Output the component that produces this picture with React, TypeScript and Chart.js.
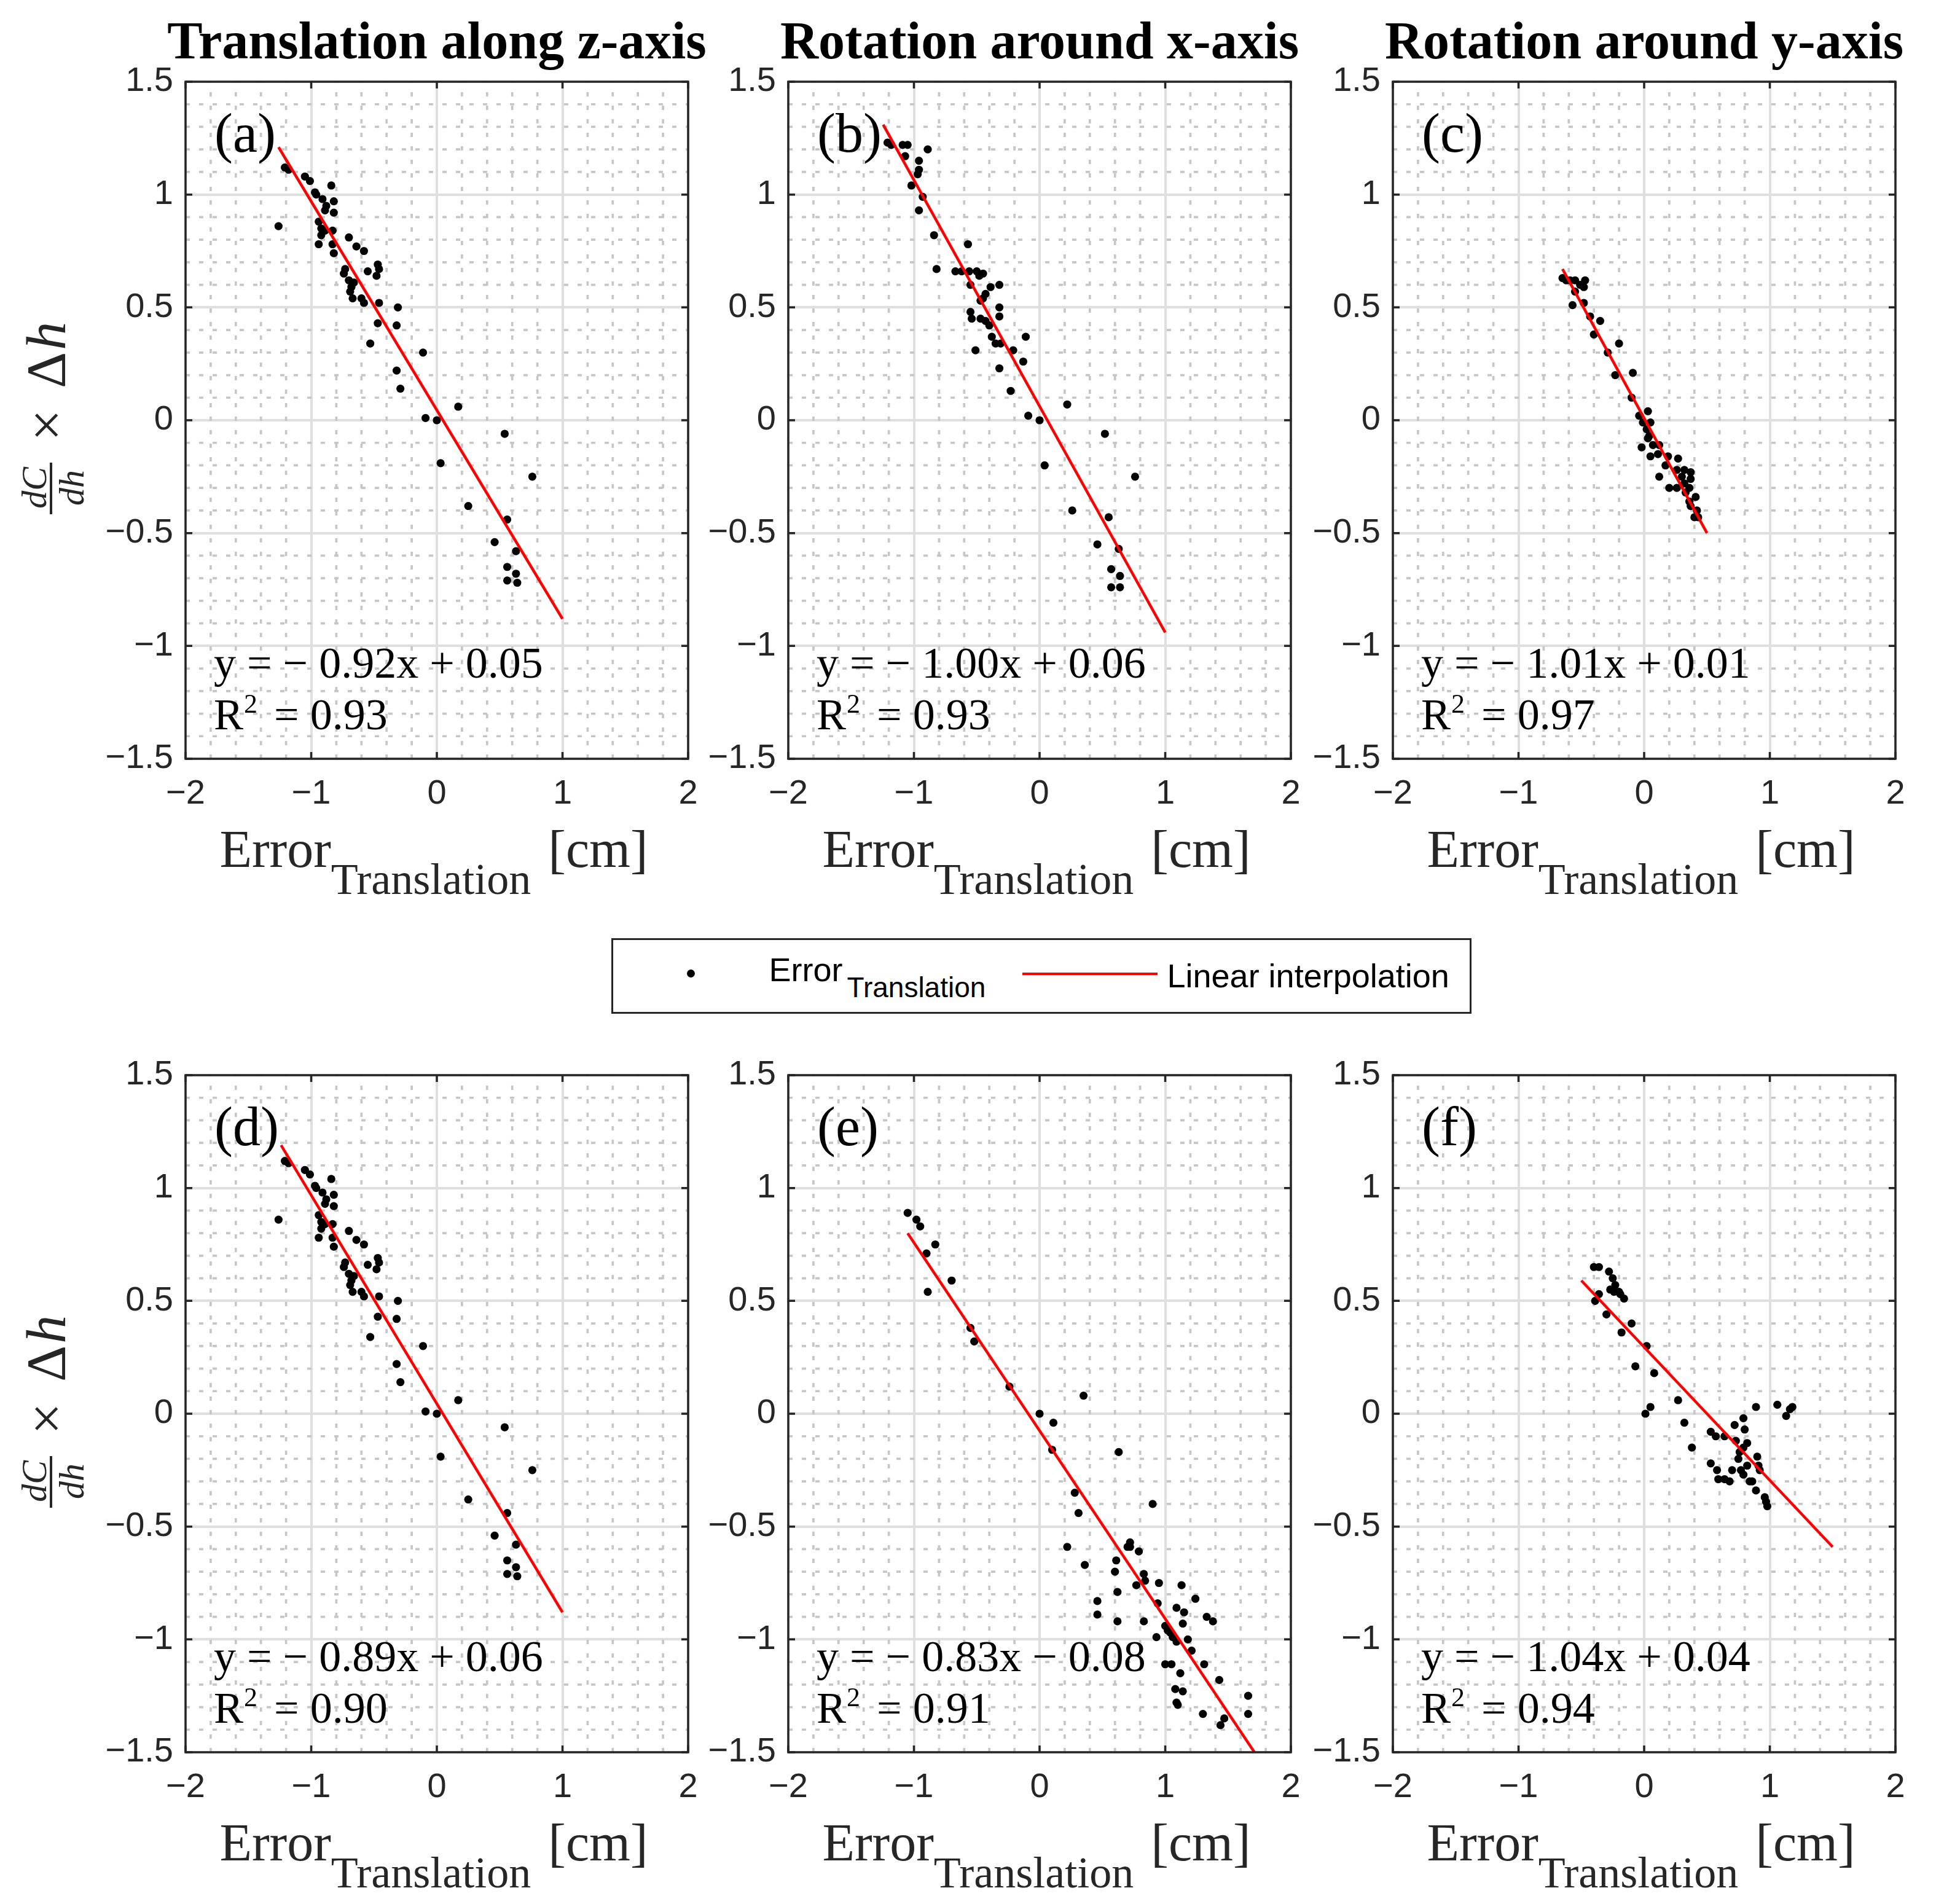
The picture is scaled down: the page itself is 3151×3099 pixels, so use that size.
import { useEffect, useRef } from "react"
import { Chart, registerables } from "chart.js"

Chart.register(...registerables)

// ---- data ----
const titles = ["Translation along z-axis", "Rotation around x-axis", "Rotation around y-axis"]
const panelLetters = ["(a)", "(b)", "(c)", "(d)", "(e)", "(f)"]
const equations = [
  "y = \u2212 0.92x + 0.05",
  "y = \u2212 1.00x + 0.06",
  "y = \u2212 1.01x + 0.01",
  "y = \u2212 0.89x + 0.06",
  "y = \u2212 0.83x \u2212 0.08",
  "y = \u2212 1.04x + 0.04",
]
const r2Values = ["0.93", "0.93", "0.97", "0.90", "0.91", "0.94"]

const xTicks = [-2, -1, 0, 1, 2]
const yTicks = [-1.5, -1, -0.5, 0, 0.5, 1, 1.5]

const panelA: [number, number][] = [
  [-1.18, 1.11], [-1.21, 1.12], [-1.05, 1.08], [-1.01, 1.06], [-0.84, 1.04], [-0.97, 1.01],
  [-0.96, 1.0], [-0.91, 0.98], [-0.82, 0.97], [-0.88, 0.95], [-0.89, 0.93], [-0.82, 0.92],
  [-1.26, 0.86], [-0.94, 0.88], [-0.92, 0.85], [-0.89, 0.84], [-0.83, 0.84], [-0.92, 0.82],
  [-0.94, 0.78], [-0.83, 0.78], [-0.82, 0.74], [-0.7, 0.81], [-0.64, 0.77], [-0.58, 0.75],
  [-0.47, 0.69], [-0.46, 0.67], [-0.48, 0.64], [-0.55, 0.66], [-0.73, 0.67], [-0.74, 0.65],
  [-0.7, 0.62], [-0.66, 0.61], [-0.68, 0.59], [-0.69, 0.57], [-0.67, 0.54], [-0.6, 0.54],
  [-0.58, 0.52], [-0.46, 0.52], [-0.31, 0.5], [-0.47, 0.43], [-0.32, 0.42], [-0.53, 0.34],
  [-0.11, 0.3], [-0.32, 0.22], [-0.29, 0.14], [0.17, 0.06], [-0.09, 0.01], [0.0, 0.0],
  [0.03, -0.19], [0.54, -0.06], [0.76, -0.25], [0.25, -0.38], [0.56, -0.44], [0.46, -0.54],
  [0.63, -0.58], [0.56, -0.65], [0.63, -0.68], [0.56, -0.71], [0.64, -0.72],
]

const panelB: [number, number][] = [
  [-1.21, 1.23], [-1.18, 1.22], [-1.09, 1.22], [-1.05, 1.22], [-1.07, 1.17], [-0.89, 1.2],
  [-0.96, 1.15], [-0.96, 1.11], [-0.97, 1.09], [-1.02, 1.04], [-0.93, 0.99], [-0.96, 0.93],
  [-0.84, 0.82], [-0.57, 0.78], [-0.82, 0.67], [-0.67, 0.66], [-0.62, 0.66], [-0.56, 0.66],
  [-0.5, 0.66], [-0.45, 0.65], [-0.48, 0.64], [-0.55, 0.6], [-0.39, 0.59], [-0.32, 0.6],
  [-0.43, 0.56], [-0.45, 0.54], [-0.47, 0.53], [-0.32, 0.5], [-0.55, 0.48], [-0.32, 0.46],
  [-0.54, 0.45], [-0.47, 0.45], [-0.43, 0.44], [-0.4, 0.42], [-0.38, 0.37], [-0.35, 0.34],
  [-0.31, 0.34], [-0.11, 0.37], [-0.21, 0.31], [-0.51, 0.31], [-0.13, 0.26], [-0.32, 0.23],
  [-0.23, 0.13], [0.22, 0.07], [-0.09, 0.02], [0.0, 0.0], [0.04, -0.2], [0.52, -0.06],
  [0.76, -0.25], [0.26, -0.4], [0.55, -0.43], [0.46, -0.55], [0.63, -0.57], [0.57, -0.66],
  [0.64, -0.69], [0.57, -0.74], [0.64, -0.74],
]

const panelC: [number, number][] = [
  [-0.65, 0.63], [-0.62, 0.62], [-0.59, 0.62], [-0.55, 0.62], [-0.51, 0.6], [-0.47, 0.62],
  [-0.48, 0.59], [-0.55, 0.57], [-0.57, 0.51], [-0.48, 0.52], [-0.43, 0.46], [-0.35, 0.44],
  [-0.4, 0.38], [-0.2, 0.34], [-0.29, 0.3], [-0.23, 0.2], [-0.09, 0.21], [-0.1, 0.1],
  [-0.04, 0.02], [0.03, 0.04], [-0.01, -0.01], [0.05, -0.01], [0.02, -0.04], [0.04, -0.07],
  [0.03, -0.08], [-0.02, -0.12], [0.07, -0.11], [0.12, -0.11], [0.05, -0.16], [0.11, -0.15],
  [0.19, -0.16], [0.27, -0.17], [0.17, -0.2], [0.26, -0.22], [0.32, -0.22], [0.37, -0.23],
  [0.3, -0.25], [0.37, -0.26], [0.12, -0.25], [0.32, -0.28], [0.2, -0.3], [0.26, -0.3],
  [0.36, -0.3], [0.33, -0.32], [0.41, -0.34], [0.36, -0.36], [0.37, -0.38], [0.42, -0.4],
  [0.4, -0.43], [0.43, -0.43],
]

// panel (d) shows the same scatter as panel (a)
const panelD: [number, number][] = panelA

const panelE: [number, number][] = [
  [-1.05, 0.89], [-0.98, 0.86], [-0.95, 0.83], [-0.83, 0.75], [-0.9, 0.71], [-0.7, 0.59],
  [-0.89, 0.54], [-0.55, 0.38], [-0.52, 0.32], [-0.24, 0.12], [0.35, 0.08], [0.0, 0.0],
  [0.11, -0.04], [0.1, -0.16], [0.63, -0.17], [0.9, -0.4], [0.28, -0.35], [0.31, -0.44],
  [0.22, -0.59], [0.72, -0.57], [0.7, -0.59], [0.72, -0.59], [0.79, -0.61], [0.36, -0.67],
  [0.61, -0.65], [0.6, -0.7], [0.83, -0.71], [0.84, -0.74], [0.77, -0.76], [0.95, -0.75],
  [1.13, -0.76], [0.62, -0.79], [0.46, -0.83], [1.24, -0.82], [0.94, -0.84], [1.09, -0.86],
  [1.15, -0.88], [0.46, -0.89], [1.33, -0.9], [1.38, -0.92], [0.83, -0.92], [0.62, -0.92],
  [1.14, -0.93], [1.0, -0.94], [1.02, -0.96], [1.04, -0.97], [1.06, -0.99], [0.93, -0.99],
  [1.09, -1.01], [1.18, -1.0], [1.21, -1.05], [1.0, -1.11], [1.05, -1.11], [1.31, -1.11],
  [1.12, -1.15], [1.43, -1.18], [1.08, -1.22], [1.14, -1.23], [1.66, -1.25], [1.09, -1.28],
  [1.1, -1.29], [1.3, -1.33], [1.66, -1.33], [1.47, -1.35], [1.44, -1.38],
]

const panelF: [number, number][] = [
  [-0.4, 0.65], [-0.36, 0.65], [-0.28, 0.63], [-0.25, 0.6], [-0.23, 0.57], [-0.27, 0.55],
  [-0.24, 0.54], [-0.2, 0.54], [-0.19, 0.53], [-0.16, 0.51], [-0.36, 0.53], [-0.39, 0.5],
  [-0.3, 0.44], [-0.1, 0.4], [-0.18, 0.36], [0.02, 0.3], [-0.07, 0.21], [0.08, 0.18],
  [0.27, 0.06], [0.05, 0.03], [0.01, 0.0], [0.32, -0.04], [0.38, -0.15], [0.89, 0.03],
  [1.06, 0.04], [1.18, 0.03], [1.16, 0.02], [1.13, -0.01], [0.79, -0.02], [0.72, -0.05],
  [0.8, -0.07], [0.53, -0.08], [0.57, -0.1], [0.64, -0.1], [0.73, -0.12], [0.82, -0.13],
  [0.79, -0.15], [0.76, -0.17], [0.9, -0.19], [0.75, -0.2], [0.53, -0.22], [0.91, -0.23],
  [0.82, -0.23], [0.92, -0.25], [0.77, -0.25], [0.7, -0.25], [0.58, -0.25], [0.79, -0.27],
  [0.59, -0.29], [0.64, -0.29], [0.68, -0.3], [0.84, -0.3], [0.86, -0.3], [0.89, -0.34],
  [0.96, -0.37], [0.97, -0.39], [0.98, -0.41],
]

// end points of the red fitted lines
const fitA: [number, number][] = [[-1.26, 1.21], [1.0, -0.88]]
const fitB: [number, number][] = [[-1.245, 1.31], [1.0, -0.94]]
const fitC: [number, number][] = [[-0.65, 0.67], [0.5, -0.5]]
const fitD: [number, number][] = [[-1.24, 1.19], [1.0, -0.88]]
const fitE: [number, number][] = [[-1.05, 0.8], [1.71, -1.5]]
const fitF: [number, number][] = [[-0.5, 0.59], [1.5, -0.59]]

const panelPoints = [panelA, panelB, panelC, panelD, panelE, panelF]
const panelFits = [fitA, fitB, fitC, fitD, fitE, fitF]

// ---- layout ----
const PLOT_LEFTS = [302, 1283, 2267]
const PLOT_TOPS = [133, 1750]
const PLOT_W = 818
const PLOT_H = 1102
const PAD_LEFT = 300
const PAD_TOP = 140
const PAD_RIGHT = 40
const PAD_BOTTOM = 260
const CANVAS_W = PAD_LEFT + PLOT_W + PAD_RIGHT
const CANVAS_H = PAD_TOP + PLOT_H + PAD_BOTTOM

const AXIS_COLOR = "#262626"
const SERIF = "'Liberation Serif', 'Times New Roman', serif"
const SANS = "'Liberation Sans', Arial, Helvetica, sans-serif"

const fmtTick = (v: number) => {
  const r = Math.round(v * 10) / 10
  return r < 0 ? "\u2212" + Math.abs(r) : String(r)
}

const decorPlugin = {
  id: "panelDecor",
  beforeDatasetsDraw(chart: any) {
    const { ctx, chartArea: a, scales } = chart
    const x = scales.x
    const y = scales.y
    // dotted minor grid
    ctx.save()
    ctx.beginPath()
    ctx.rect(a.left, a.top, a.right - a.left, a.bottom - a.top)
    ctx.clip()
    ctx.strokeStyle = "#c6c6c6"
    ctx.lineWidth = 3.7
    ctx.setLineDash([7, 15])
    ctx.beginPath()
    for (let i = -20; i <= 20; i += 2) {
      if (i % 10 === 0) continue
      const px = x.getPixelForValue(i / 10)
      ctx.moveTo(px, a.bottom)
      ctx.lineTo(px, a.top)
    }
    for (let i = -15; i <= 15; i++) {
      if (i % 5 === 0) continue
      const py = y.getPixelForValue(i / 10)
      ctx.moveTo(a.left, py)
      ctx.lineTo(a.right, py)
    }
    ctx.stroke()
    ctx.restore()
  },
  afterDatasetsDraw(chart: any, _args: any, opts: any) {
    const { ctx, chartArea: a, scales } = chart
    const x = scales.x
    const y = scales.y
    ctx.save()

    // inward tick marks on all four sides
    ctx.strokeStyle = AXIS_COLOR
    ctx.lineWidth = 3.5
    ctx.beginPath()
    const tl = 11
    for (const v of xTicks) {
      const px = x.getPixelForValue(v)
      ctx.moveTo(px, a.bottom)
      ctx.lineTo(px, a.bottom - tl)
      ctx.moveTo(px, a.top)
      ctx.lineTo(px, a.top + tl)
    }
    for (const v of yTicks) {
      const py = y.getPixelForValue(v)
      ctx.moveTo(a.left, py)
      ctx.lineTo(a.left + tl, py)
      ctx.moveTo(a.right, py)
      ctx.lineTo(a.right - tl, py)
    }
    ctx.stroke()
    // axes box
    ctx.strokeRect(a.left, a.top, a.right - a.left, a.bottom - a.top)

    ctx.fillStyle = "#000000"
    ctx.textAlign = "left"
    ctx.textBaseline = "alphabetic"

    // panel letter
    ctx.font = `90px ${SERIF}`
    ctx.fillText(opts.letter, x.getPixelForValue(-1.77), y.getPixelForValue(1.19))

    // regression equation and R^2
    const ex = x.getPixelForValue(-1.775)
    ctx.font = `72px ${SERIF}`
    ctx.fillText(opts.equation, ex, y.getPixelForValue(-1.14))
    const rb = y.getPixelForValue(-1.37)
    ctx.fillText("R", ex, rb)
    const wR = ctx.measureText("R").width
    ctx.font = `44px ${SERIF}`
    ctx.fillText("2", ex + wR + 1, rb - 27)
    const w2 = ctx.measureText("2").width
    ctx.font = `72px ${SERIF}`
    ctx.fillText("= " + opts.r2, ex + wR + w2 + 28, rb)

    // title (top row only)
    if (opts.title) {
      ctx.font = `bold 86px ${SERIF}`
      ctx.textAlign = "center"
      ctx.fillText(opts.title, (a.left + a.right) / 2, a.top - 38)
      ctx.textAlign = "left"
    }

    // x axis label: Error_Translation [cm]
    ctx.fillStyle = AXIS_COLOR
    ctx.font = `86px ${SERIF}`
    const wE = ctx.measureText("Error").width
    const wC = ctx.measureText("[cm]").width
    ctx.font = `72px ${SERIF}`
    const wS = ctx.measureText("Translation").width
    const gap = 28
    const total = wE + wS + gap + wC
    const sx = (a.left + a.right) / 2 - total / 2 - 5
    ctx.font = `86px ${SERIF}`
    ctx.fillText("Error", sx, a.bottom + 176)
    ctx.fillText("[cm]", sx + wE + wS + gap, a.bottom + 176)
    ctx.font = `72px ${SERIF}`
    ctx.fillText("Translation", sx + wE, a.bottom + 220)

    // y axis label: dC/dh x Delta h (left column only)
    if (opts.yLabel) {
      const cy = (a.top + a.bottom) / 2 - 8
      const base = a.left - 196
      ctx.translate(base, cy)
      ctx.rotate(-Math.PI / 2)
      ctx.font = `italic 58px ${SERIF}`
      ctx.textAlign = "center"
      ctx.fillText("dC", -118, -31)
      ctx.fillRect(-161, -25, 84, 4)
      ctx.fillText("dh", -118, 30)
      ctx.textAlign = "left"
      ctx.font = `92px ${SERIF}`
      ctx.fillText("\u00d7", -42, 0)
      ctx.fillText("\u0394", 44, 0)
      const wD = ctx.measureText("\u0394").width
      ctx.font = `italic 92px ${SERIF}`
      ctx.fillText("h", 44 + wD + 3, 0)
    }
    ctx.restore()
  },
}

interface PanelProps {
  index: number
}

function Panel({ index }: PanelProps) {
  const canvasRef = useRef<HTMLCanvasElement>(null)
  const col = index % 3
  const row = Math.floor(index / 3)
  const left = PLOT_LEFTS[col] - PAD_LEFT
  const top = PLOT_TOPS[row] - PAD_TOP

  useEffect(() => {
    if (!canvasRef.current) return
    const points = panelPoints[index]
    const fit = panelFits[index]
    const chart = new Chart(canvasRef.current, {
      type: "scatter",
      data: {
        datasets: [
          {
            label: "Linear interpolation",
            data: fit.map(([px, py]) => ({ x: px, y: py })),
            showLine: true,
            borderColor: "#ff0000",
            borderWidth: 4.5,
            pointRadius: 0,
            order: 0,
          },
          {
            label: "Error Translation",
            data: points.map(([px, py]) => ({ x: px, y: py })),
            backgroundColor: "#000000",
            borderWidth: 0,
            pointRadius: 6.6,
            order: 1,
          },
        ],
      },
      options: {
        responsive: false,
        animation: false,
        events: [],
        layout: {
          padding: { top: PAD_TOP, right: PAD_RIGHT, bottom: 0, left: 0 },
        },
        scales: {
          x: {
            type: "linear",
            min: -2,
            max: 2,
            afterFit: (scale: any) => {
              scale.height = PAD_BOTTOM
            },
            afterBuildTicks: (scale: any) => {
              scale.ticks = xTicks.map((v) => ({ value: v }))
            },
            ticks: {
              autoSkip: false,
              maxRotation: 0,
              padding: 24,
              color: AXIS_COLOR,
              font: { family: SANS, size: 56 },
              callback: (v: any) => fmtTick(Number(v)),
            },
            grid: { color: "#dfdfdf", lineWidth: 4, drawTicks: false },
            border: { display: false },
          },
          y: {
            type: "linear",
            min: -1.5,
            max: 1.5,
            afterFit: (scale: any) => {
              scale.width = PAD_LEFT
            },
            afterBuildTicks: (scale: any) => {
              scale.ticks = yTicks.map((v) => ({ value: v }))
            },
            ticks: {
              autoSkip: false,
              padding: 20,
              color: AXIS_COLOR,
              font: { family: SANS, size: 56 },
              callback: (v: any) => fmtTick(Number(v)),
            },
            grid: { color: "#dfdfdf", lineWidth: 4, drawTicks: false },
            border: { display: false },
          },
        },
        plugins: {
          legend: { display: false },
          tooltip: { enabled: false },
          title: { display: false },
          panelDecor: {
            letter: panelLetters[index],
            equation: equations[index],
            r2: r2Values[index],
            title: row === 0 ? titles[col] : "",
            yLabel: col === 0,
          },
        } as any,
      },
      plugins: [decorPlugin],
    })
    return () => chart.destroy()
  }, [index])

  return (
    <canvas
      ref={canvasRef}
      width={CANVAS_W}
      height={CANVAS_H}
      style={{ position: "absolute", left, top, width: CANVAS_W, height: CANVAS_H }}
    />
  )
}

function Legend() {
  const text = {
    position: "absolute" as const,
    fontFamily: SANS,
    color: "#000",
    lineHeight: 1,
    whiteSpace: "nowrap" as const,
  }
  const bw = 3.5
  const ox = 995 + bw
  const oy = 1527 + bw
  return (
    <div
      style={{
        position: "absolute",
        left: 995,
        top: 1527,
        width: 1400,
        height: 123,
        boxSizing: "border-box",
        border: `${bw}px solid ${AXIS_COLOR}`,
        background: "#ffffff",
      }}
    >
      <div
        style={{
          position: "absolute",
          left: 1125 - ox - 6.5,
          top: 1585 - oy - 6.5,
          width: 13,
          height: 13,
          borderRadius: "50%",
          background: "#000",
        }}
      />
      <span style={{ ...text, fontSize: 54, left: 1252 - ox, top: 1551 - oy }}>Error</span>
      <span style={{ ...text, fontSize: 46, left: 1379 - ox, top: 1584 - oy }}>Translation</span>
      <div
        style={{
          position: "absolute",
          left: 1664 - ox,
          top: 1585 - oy - 2,
          width: 220,
          height: 4.5,
          background: "#ff0000",
        }}
      />
      <span style={{ ...text, fontSize: 54, left: 1900 - ox, top: 1561 - oy }}>Linear interpolation</span>
    </div>
  )
}

export default function App() {
  return (
    <div
      style={{
        position: "absolute",
        left: 0,
        top: 0,
        width: 3151,
        height: 3099,
        background: "#ffffff",
        overflow: "hidden",
      }}
    >
      {[0, 1, 2, 3, 4, 5].map((i) => (
        <Panel key={i} index={i} />
      ))}
      <Legend />
    </div>
  )
}
